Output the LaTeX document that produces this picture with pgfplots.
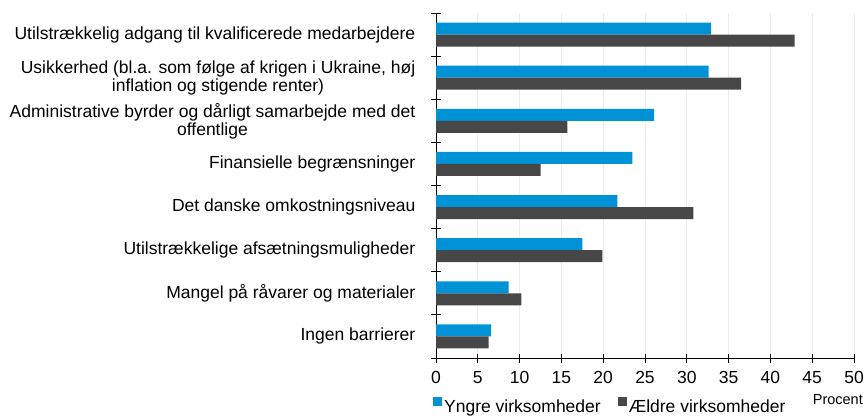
\documentclass[border=0pt]{standalone}
\usepackage{fontspec}
\setmainfont{Liberation Sans}
\usepackage{pgfplots}
\pgfplotsset{compat=1.18}
\definecolor{yngre}{RGB}{0,146,214}
\definecolor{aeldre}{RGB}{71,71,71}
\definecolor{gridgray}{RGB}{236,236,236}
\newcommand{\lblfont}{\fontsize{17.5}{18}\selectfont}

\begin{document}
\begin{tikzpicture}
\path[use as bounding box] (0pt,0pt) rectangle (865pt,-416pt);
\clip (0pt,0pt) rectangle (865pt,-416pt);
\begin{axis}[
  at={(436pt,-358pt)}, anchor=south west,
  scale only axis, width=418pt, height=345pt,
  xbar, bar width=12pt,
  xmin=0, xmax=50, xtick={0,5,...,50},
  ymin=-0.5, ymax=7.5,
  ytick={0,...,7},
  yticklabels={
    Ingen barrierer,
    Mangel på råvarer og materialer,
    Utilstrækkelige afsætningsmuligheder,
    Det danske omkostningsniveau,
    Finansielle begrænsninger,
    {Administrative byrder og dårligt samarbejde med det\\offentlige},
    {Usikkerhed (bl.a. som følge af krigen i Ukraine, høj\\inflation og stigende renter)},
    Utilstrækkelig adgang til kvalificerede medarbejdere},
  minor ytick={-0.5,0.5,...,7.5},
  axis x line*=bottom, axis y line*=left,
  axis line style={black, line width=0.8pt},
  xmajorgrids, grid style={gridgray, line width=1pt},
  tick align=center,
  major tick length=9pt, minor tick length=11pt,
  tick style={black, line width=0.8pt},
  major y tick style={draw=none},
  /pgf/number format/assume math mode=true,
  tick label style={font=\lblfont},
  yticklabel style={align=center, inner sep=0pt, xshift=-16pt},
  xticklabel style={inner sep=0pt, yshift=-9pt},
  xlabel={Procent},
  xlabel style={at={(axis description cs:1,0)}, anchor=base east,
    inner sep=0pt, yshift=-46pt, xshift=9pt, font=\fontsize{14.5}{15}\selectfont},
  legend style={draw=none, fill=none, legend columns=2,
    at={(0,0)}, anchor=north west, yshift=-39pt, xshift=-3pt,
    inner sep=0pt, font=\lblfont, nodes={inner sep=2pt},
    /tikz/every even column/.append style={column sep=15pt}},
  legend image code/.code={\fill[#1] (0pt,1pt) rectangle (9pt,10pt);},
]
\addplot[fill=yngre, draw=none, bar shift=6pt] coordinates {
  (32.9,7) (32.6,6) (26.1,5) (23.5,4) (21.7,3) (17.5,2) (8.7,1) (6.6,0)};
\addlegendentry{Yngre virksomheder}
\addplot[fill=aeldre, draw=none, bar shift=-6pt] coordinates {
  (42.9,7) (36.5,6) (15.7,5) (12.5,4) (30.8,3) (19.9,2) (10.2,1) (6.3,0)};
\addlegendentry{Ældre virksomheder}
\end{axis}
\end{tikzpicture}
\end{document}
